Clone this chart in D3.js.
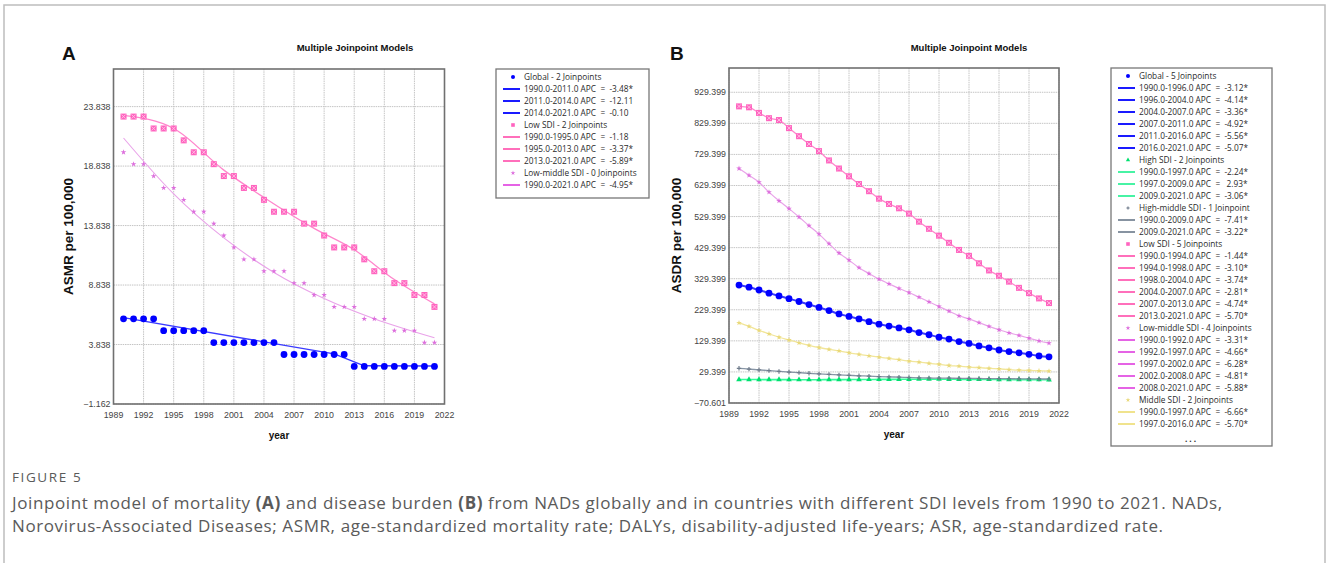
<!DOCTYPE html>
<html>
<head>
<meta charset="utf-8">
<script src="https://cdn.jsdelivr.net/npm/d3@7"></script>
<style>
  body { margin: 0; background: #fff; }
  svg { display: block; }
  .tick-label { font-family: "Liberation Sans", Arial, sans-serif; font-size: 8.8px; fill: #444; }
  .legend-text { font-family: "Open Sans", "Noto Sans", sans-serif; font-size: 8.3px; fill: #2a2a2a; white-space: pre; }
  .axis-title { font-family: "Liberation Sans", Arial, sans-serif; font-weight: bold; fill: #111; }
</style>
</head>
<body>
<div id="chart"></div>
<script>
// years on the x axis
var years = [1990,1991,1992,1993,1994,1995,1996,1997,1998,1999,2000,2001,2002,2003,2004,2005,
             2006,2007,2008,2009,2010,2011,2012,2013,2014,2015,2016,2017,2018,2019,2020,2021];
var xTicks = [1989,1992,1995,1998,2001,2004,2007,2010,2013,2016,2019,2022];

// ---- panel A : ASMR ----
var aTicks = [-1.162, 3.838, 8.838, 13.838, 18.838, 23.838];
var aGlobal = [6,6,6,6,5,5,5,5,5,4,4,4,4,4,4,4,3,3,3,3,3,3,3,2,2,2,2,2,2,2,2,2];
var aLow = [23,23,23,22,22,22,21,20,20,19,18,18,17,17,16,15,15,15,14,14,13,12,12,12,11,10,10,9,9,8,8,7];
var aLowMid = [20,19,19,18,17,17,16,15,15,14,13,12,11,11,10,10,10,9,9,8,8,7,7,7,6,6,6,5,5,5,4,4];
// fitted joinpoint lines [year, value]
var aGlobalFit = [[1990,6.1],[2011,3.05],[2014,2.05],[2021,2.03]];
var aLowFit = [[1990,23.1],[1995,22.0],[2000,18.5],[2004,16.2],[2009,13.6],[2013,11.8],[2017,9.3],[2021,7.25]];
var aLowMidFit = [[1990,21.2],[1995,16.5],[2000,12.8],[2005,9.9],[2010,7.7],[2015,6.0],[2021,4.4]];

// ---- panel B : ASDR ----
var bTicks = [-70.601,29.399,129.399,229.399,329.399,429.399,529.399,629.399,729.399,829.399,929.399];
var bGlobal = [309,302,293,283,274,265,256,246,237,227,216,208,200,191,183,177,
               171,165,156,149,141,135,127,121,113,107,100,95,91,86,81,78];
var bHigh = [5.0,4.9,4.8,4.7,4.6,4.5,4.4,4.3,4.4,4.6,4.7,4.8,5.0,5.1,5.3,5.4,
             5.6,5.8,5.9,6.1,5.9,5.7,5.5,5.4,5.2,5.1,4.9,4.8,4.6,4.5,4.3,4.2];
var bHighMid = [41,38.5,36,33.5,31,29,27,25,23,21.5,20,18.5,17,16,14.5,13.5,
                12.5,11.5,10.5,9.8,9.5,9.2,8.9,8.6,8.3,8.0,7.8,7.5,7.3,7.0,6.8,6.6];
var bLow = [884,881,863,846,840,814,788,763,740,710,684,659,634,611,587,570,
            556,539,513,490,468,445,422,403,379,356,339,320,300,283,266,251];
var bLowMid = [684,662,640,608,580,555,528,500,473,442,412,389,365,346,328,313,
               298,285,270,255,240,225,210,200,188,176,165,155,147,138,129,122];
var bMiddle = [187,176,163,152,141,132,123,115,108,102,97,91,86,81,77,73,
               69,64,61,57,54,50,48,45,43,41,39,37,35,34,33,32];

// legends
var legendA = [
  ["m","Global - 2 Joinpoints","global"],
  ["l","1990.0-2011.0 APC  =  -3.48*","global"],
  ["l","2011.0-2014.0 APC  =  -12.11","global"],
  ["l","2014.0-2021.0 APC  =  -0.10","global"],
  ["m","Low SDI - 2 Joinpoints","low"],
  ["l","1990.0-1995.0 APC  =  -1.18","low"],
  ["l","1995.0-2013.0 APC  =  -3.37*","low"],
  ["l","2013.0-2021.0 APC  =  -5.89*","low"],
  ["m","Low-middle SDI - 0 Joinpoints","lowmid"],
  ["l","1990.0-2021.0 APC  =  -4.95*","lowmid"]
];
var legendB = [
  ["m","Global - 5 Joinpoints","global"],
  ["l","1990.0-1996.0 APC  =  -3.12*","global"],
  ["l","1996.0-2004.0 APC  =  -4.14*","global"],
  ["l","2004.0-2007.0 APC  =  -3.36*","global"],
  ["l","2007.0-2011.0 APC  =  -4.92*","global"],
  ["l","2011.0-2016.0 APC  =  -5.56*","global"],
  ["l","2016.0-2021.0 APC  =  -5.07*","global"],
  ["m","High SDI - 2 Joinpoints","high"],
  ["l","1990.0-1997.0 APC  =  -2.24*","high"],
  ["l","1997.0-2009.0 APC  =   2.93*","high"],
  ["l","2009.0-2021.0 APC  =  -3.06*","high"],
  ["m","High-middle SDI - 1 Joinpoint","highmid"],
  ["l","1990.0-2009.0 APC  =  -7.41*","highmid"],
  ["l","2009.0-2021.0 APC  =  -3.22*","highmid"],
  ["m","Low SDI - 5 Joinpoints","low"],
  ["l","1990.0-1994.0 APC  =  -1.44*","low"],
  ["l","1994.0-1998.0 APC  =  -3.10*","low"],
  ["l","1998.0-2004.0 APC  =  -3.74*","low"],
  ["l","2004.0-2007.0 APC  =  -2.81*","low"],
  ["l","2007.0-2013.0 APC  =  -4.74*","low"],
  ["l","2013.0-2021.0 APC  =  -5.70*","low"],
  ["m","Low-middle SDI - 4 Joinpoints","lowmid"],
  ["l","1990.0-1992.0 APC  =  -3.31*","lowmid"],
  ["l","1992.0-1997.0 APC  =  -4.66*","lowmid"],
  ["l","1997.0-2002.0 APC  =  -6.28*","lowmid"],
  ["l","2002.0-2008.0 APC  =  -4.81*","lowmid"],
  ["l","2008.0-2021.0 APC  =  -5.88*","lowmid"],
  ["m","Middle SDI - 2 Joinpoints","middle"],
  ["l","1990.0-1997.0 APC  =  -6.66*","middle"],
  ["l","1997.0-2016.0 APC  =  -5.70*","middle"]
];

var styles = {
  global:  { marker: "#0000ff", line: "#3a3aff", legendLine: "#0000ff", shape: "dot" },
  low:     { marker: "#ff63bf", line: "#ff86cc", legendLine: "#ff5fb4", shape: "square" },
  lowmid:  { marker: "#dd6fdd", line: "#e9a3e9", legendLine: "#e352e3", shape: "star" },
  high:    { marker: "#00e070", line: "#33ff99", legendLine: "#33f29a", shape: "tri" },
  highmid: { marker: "#707c8c", line: "#8896a6", legendLine: "#7a8797", shape: "plus" },
  middle:  { marker: "#e9d97a", line: "#f2e69a", legendLine: "#efe080", shape: "star" }
};

var svg = d3.select("#chart").append("svg")
    .attr("width", 1328)
    .attr("height", 563);

// outer frame
svg.append("rect")
    .attr("x", 4).attr("y", 5).attr("width", 1321).attr("height", 600)
    .attr("fill", "none").attr("stroke", "#bdbdbd").attr("stroke-width", 1.5);

function drawMarker(g, shape, cx, cy, color, big) {
  if (shape == "dot") {
    g.append("circle").attr("cx", cx).attr("cy", cy).attr("r", big ? 3.4 : 2)
        .attr("fill", color);
  } else if (shape == "square") {
    var s = big ? 3 : 1.8;
    g.append("rect").attr("x", cx - s).attr("y", cy - s).attr("width", 2 * s).attr("height", 2 * s)
        .attr("fill", color);
    if (big) {
      g.append("path")
          .attr("d", "M" + (cx - s + 1) + "," + (cy - s + 1) + "L" + (cx + s - 1) + "," + (cy + s - 1) +
                     "M" + (cx + s - 1) + "," + (cy - s + 1) + "L" + (cx - s + 1) + "," + (cy + s - 1))
          .attr("stroke", "#ffc2e4").attr("stroke-width", 0.9);
    }
  } else if (shape == "star") {
    g.append("path").attr("d", d3.symbol(d3.symbolStar, big ? 10 : 7)())
        .attr("transform", "translate(" + cx + "," + cy + ")")
        .attr("fill", color);
  } else if (shape == "tri") {
    g.append("path").attr("d", d3.symbol(d3.symbolTriangle, big ? 14 : 8)())
        .attr("transform", "translate(" + cx + "," + cy + ")")
        .attr("fill", color);
  } else if (shape == "plus") {
    var p = big ? 2.2 : 1.6;
    g.append("path").attr("d", "M" + (cx - p) + "," + cy + "H" + (cx + p) + "M" + cx + "," + (cy - p) + "V" + (cy + p))
        .attr("stroke", color).attr("stroke-width", 1.2);
  }
}

function drawPanel(cfg) {
  var x = d3.scaleLinear().domain([1989, 2022]).range([cfg.left, cfg.right]);
  var y = d3.scaleLinear().domain(cfg.yDomain).range([cfg.bottom, cfg.top]);
  var g = svg.append("g");

  // grid
  g.selectAll(".vgrid").data(xTicks).enter().append("line")
      .attr("x1", function(d){ return x(d); }).attr("x2", function(d){ return x(d); })
      .attr("y1", cfg.top).attr("y2", cfg.bottom)
      .attr("stroke", "#c4c4c4").attr("stroke-width", 1).attr("stroke-dasharray", "1.5,0.8");
  g.selectAll(".hgrid").data(cfg.yTicks).enter().append("line")
      .attr("x1", cfg.left).attr("x2", cfg.right)
      .attr("y1", function(d){ return y(d); }).attr("y2", function(d){ return y(d); })
      .attr("stroke", "#c4c4c4").attr("stroke-width", 1).attr("stroke-dasharray", "1.5,0.8");

  // frame
  g.append("rect")
      .attr("x", cfg.left).attr("y", cfg.top)
      .attr("width", cfg.right - cfg.left).attr("height", cfg.bottom - cfg.top)
      .attr("fill", "none").attr("stroke", "#707070").attr("stroke-width", 1.6);

  // tick labels
  g.selectAll(".ylab").data(cfg.yTicks).enter().append("text")
      .attr("class", "tick-label")
      .attr("x", cfg.left - 3).attr("y", function(d){ return y(d) + 3; })
      .attr("text-anchor", "end")
      .text(function(d){ return d3.format(".3f")(d); });
  g.selectAll(".xlab").data(xTicks).enter().append("text")
      .attr("class", "tick-label")
      .attr("x", function(d){ return x(d); }).attr("y", cfg.bottom + 14)
      .attr("text-anchor", "middle")
      .text(function(d){ return d; });

  // series
  var line = d3.line()
      .x(function(d){ return x(d[0]); })
      .y(function(d){ return y(d[1]); });

  cfg.series.forEach(function(s) {
    var st = styles[s.key];
    var pts = s.fit ? s.fit : years.map(function(yr, i){ return [yr, s.values[i]]; });
    line.curve(s.curve ? d3.curveMonotoneX : d3.curveLinear);
    g.append("path").datum(pts)
        .attr("d", line)
        .attr("fill", "none")
        .attr("stroke", st.line)
        .attr("stroke-width", s.width || 1.3);
  });
  cfg.series.forEach(function(s) {
    var st = styles[s.key];
    var mg = g.append("g");
    years.forEach(function(yr, i) {
      drawMarker(mg, st.shape, x(yr), y(s.values[i]), st.marker, true);
    });
  });

  // titles
  svg.append("text").attr("class", "axis-title")
      .attr("x", cfg.letterX).attr("y", 60).attr("font-size", 19).text(cfg.letter);
  svg.append("text").attr("class", "axis-title")
      .attr("x", cfg.titleX).attr("y", 51).attr("text-anchor", "middle")
      .attr("font-size", 9.5).text("Multiple Joinpoint Models");
  svg.append("text").attr("class", "axis-title")
      .attr("transform", "translate(" + cfg.yTitleX + "," + ((cfg.top + cfg.bottom) / 2) + ") rotate(-90)")
      .attr("text-anchor", "middle").attr("font-size", 13.5).text(cfg.yTitle);
  svg.append("text").attr("class", "axis-title")
      .attr("x", (cfg.left + cfg.right) / 2).attr("y", cfg.bottom + 35)
      .attr("text-anchor", "middle").attr("font-size", 10).text("year");

  // legend
  var lg = svg.append("g");
  lg.append("rect")
      .attr("x", cfg.legend.x).attr("y", cfg.legend.y)
      .attr("width", cfg.legend.w).attr("height", cfg.legend.h)
      .attr("fill", "#fff").attr("stroke", "#777").attr("stroke-width", 1.3);
  cfg.legend.rows.forEach(function(r, i) {
    var cy = cfg.legend.y + 8 + i * 12;
    var st = styles[r[2]];
    if (r[0] == "m") {
      drawMarker(lg, st.shape, cfg.legend.x + 17, cy, st.marker, false);
    } else {
      lg.append("line")
          .attr("x1", cfg.legend.x + 7).attr("x2", cfg.legend.x + 24)
          .attr("y1", cy).attr("y2", cy)
          .attr("stroke", st.legendLine).attr("stroke-width", 1.8);
    }
    lg.append("text").attr("class", "legend-text")
        .attr("x", cfg.legend.x + 28).attr("y", cy + 3)
        .text(r[1]);
  });
  if (cfg.legend.more) {
    lg.append("text").attr("class", "legend-text")
        .attr("x", cfg.legend.x + cfg.legend.w / 2).attr("y", cfg.legend.y + cfg.legend.h - 4)
        .attr("text-anchor", "middle").attr("font-weight", "bold").attr("letter-spacing", 2)
        .text("...");
  }
}

drawPanel({
  left: 113.5, right: 444.5, top: 69, bottom: 404,
  yDomain: [-1.162, 27.0], yTicks: aTicks,
  letter: "A", letterX: 62, titleX: 355, yTitleX: 73, yTitle: "ASMR per 100,000",
  series: [
    { key: "lowmid", values: aLowMid, fit: aLowMidFit, curve: true, width: 1.1 },
    { key: "low", values: aLow, fit: aLowFit, curve: true, width: 1.3 },
    { key: "global", values: aGlobal, fit: aGlobalFit, width: 1.4 }
  ],
  legend: { x: 496, y: 69, w: 153, h: 129, rows: legendA }
});

drawPanel({
  left: 729, right: 1059, top: 68, bottom: 403,
  yDomain: [-70.601, 1007.5], yTicks: bTicks,
  letter: "B", letterX: 670, titleX: 969, yTitleX: 681, yTitle: "ASDR per 100,000",
  series: [
    { key: "high", values: bHigh, curve: true, width: 1.6 },
    { key: "highmid", values: bHighMid, curve: true, width: 1.3 },
    { key: "middle", values: bMiddle, curve: true, width: 1.3 },
    { key: "lowmid", values: bLowMid, curve: true, width: 1.2 },
    { key: "low", values: bLow, curve: true, width: 1.3 },
    { key: "global", values: bGlobal, curve: true, width: 2 }
  ],
  legend: { x: 1111, y: 68, w: 161, h: 378, rows: legendB, more: true }
});

// caption
var cap = svg.append("g")
    .attr("font-family", "'Open Sans', 'Noto Sans', sans-serif")
    .attr("fill", "#5a5a5a");
cap.append("text").attr("x", 12).attr("y", 482).attr("font-size", 13.5)
    .attr("letter-spacing", 1.6).text("FIGURE 5");
var l1 = cap.append("text").attr("x", 12).attr("y", 509).attr("font-size", 17).attr("letter-spacing", 0.6);
l1.append("tspan").text("Joinpoint model of mortality ");
l1.append("tspan").attr("font-weight", "bold").text("(A)");
l1.append("tspan").text(" and disease burden ");
l1.append("tspan").attr("font-weight", "bold").text("(B)");
l1.append("tspan").text(" from NADs globally and in countries with different SDI levels from 1990 to 2021. NADs,");
cap.append("text").attr("x", 12).attr("y", 532).attr("font-size", 17).attr("letter-spacing", 0.6)
    .text("Norovirus-Associated Diseases; ASMR, age-standardized mortality rate; DALYs, disability-adjusted life-years; ASR, age-standardized rate.");
</script>
</body>
</html>
